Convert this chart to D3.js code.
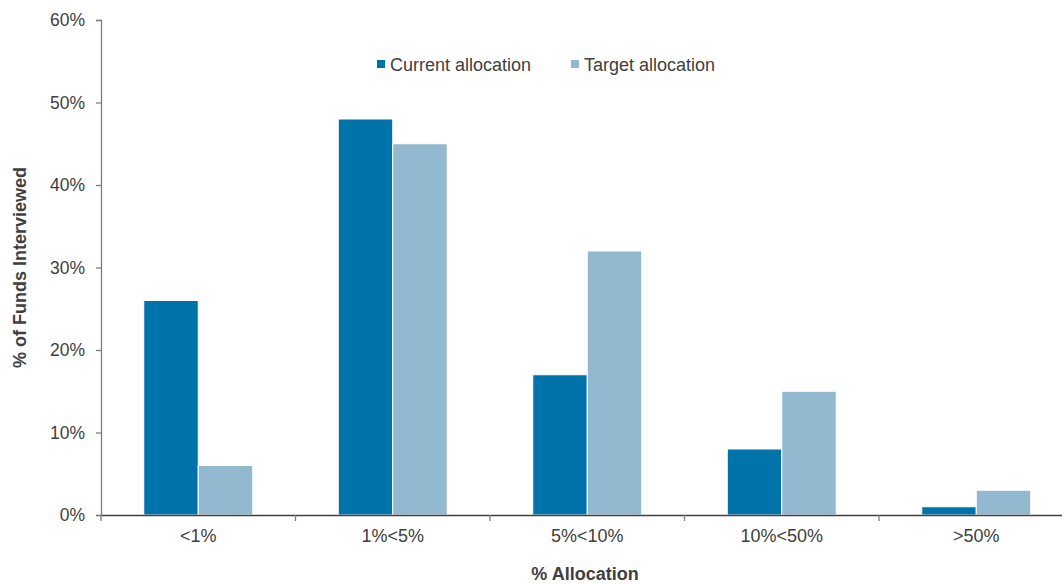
<!DOCTYPE html>
<html>
<head>
<meta charset="utf-8">
<script src="https://cdn.jsdelivr.net/npm/d3@7"></script>
<style>
  body { margin: 0; background: #fff; }
  text { font-family: "Liberation Sans", Arial, sans-serif; fill: #404040; }
</style>
</head>
<body>
<svg id="chart"></svg>
<script>
(function() {
  'use strict';
  const W = 1062, H = 584;

  const categories = ['<1%', '1%<5%', '5%<10%', '10%<50%', '>50%'];
  const seriesNames = ['Current allocation', 'Target allocation'];
  const current = [26, 48, 17, 8, 1];
  const target = [6, 45, 32, 15, 3];
  const yTicks = [0, 10, 20, 30, 40, 50, 60];
  const colors = ['#0073ab', '#93b9d0'];

  const svg = d3.select('#chart').attr('width', W).attr('height', H);

  const x = d3.scaleBand().domain(categories).range([101, 1073.5]);
  const y = d3.scaleLinear().domain([0, 60]).range([515, 20]);
  const inner = d3.scaleBand().domain([0, 1]).range([0, 109]);
  const off = (x.bandwidth() - 109) / 2;

  // y axis
  const yAxis = svg.append('g')
    .attr('transform', 'translate(101,0)')
    .call(d3.axisLeft(y).tickValues(yTicks).tickFormat(d => d + '%').tickSize(5).tickPadding(11));
  yAxis.select('.domain').attr('stroke', '#7f7f7f').attr('stroke-width', 1.3);
  yAxis.selectAll('.tick line').attr('stroke', '#7f7f7f').attr('stroke-width', 1.3);
  yAxis.selectAll('.tick text').attr('font-size', 17.5).attr('fill', '#404040')
    .style('font-family', '"Liberation Sans", Arial, sans-serif');

  // bars
  const rows = categories.map((c, i) => ({cat: c, vals: [current[i], target[i]]}));
  svg.append('g').selectAll('g')
    .data(rows)
    .join('g')
      .attr('transform', d => `translate(${x(d.cat) + off},0)`)
    .selectAll('rect')
    .data(d => d.vals.map((v, k) => ({v, k})))
    .join('rect')
      .attr('x', d => inner(d.k))
      .attr('y', d => y(d.v))
      .attr('width', inner.bandwidth())
      .attr('height', d => y(0) - y(d.v))
      .attr('fill', d => colors[d.k])
      .attr('stroke', '#fff')
      .attr('stroke-width', 1);

  // x axis
  const xAxis = svg.append('g')
    .attr('transform', 'translate(0,515)')
    .call(d3.axisBottom(x).tickSize(0).tickPadding(14).tickSizeOuter(0));
  xAxis.select('.domain').attr('stroke', '#404040').attr('stroke-width', 1.3);
  xAxis.selectAll('.tick text').attr('font-size', 18).attr('fill', '#404040')
    .style('font-family', '"Liberation Sans", Arial, sans-serif');
  xAxis.selectAll('.sep')
    .data(categories)
    .join('line')
      .attr('class', 'sep')
      .attr('x1', d => x(d)).attr('x2', d => x(d))
      .attr('y1', 0).attr('y2', 6)
      .attr('stroke', '#7f7f7f').attr('stroke-width', 1.3);

  // axis titles
  svg.append('text')
    .attr('transform', `translate(26,${(y(0) + y(60)) / 2}) rotate(-90)`)
    .attr('text-anchor', 'middle')
    .attr('font-size', 18).attr('font-weight', 'bold')
    .text('% of Funds Interviewed');

  svg.append('text')
    .attr('x', 585).attr('y', 580)
    .attr('text-anchor', 'middle')
    .attr('font-size', 18).attr('font-weight', 'bold')
    .text('% Allocation');

  // legend
  const legendX = [377, 571];
  const legend = svg.append('g').selectAll('g')
    .data(seriesNames)
    .join('g')
      .attr('transform', (d, i) => `translate(${legendX[i]},60)`);
  legend.append('rect')
    .attr('width', 8).attr('height', 8)
    .attr('fill', (d, i) => colors[i]);
  legend.append('text')
    .attr('x', 13).attr('y', 10.5)
    .attr('font-size', 18)
    .text(d => d);
})();
</script>
</body>
</html>
